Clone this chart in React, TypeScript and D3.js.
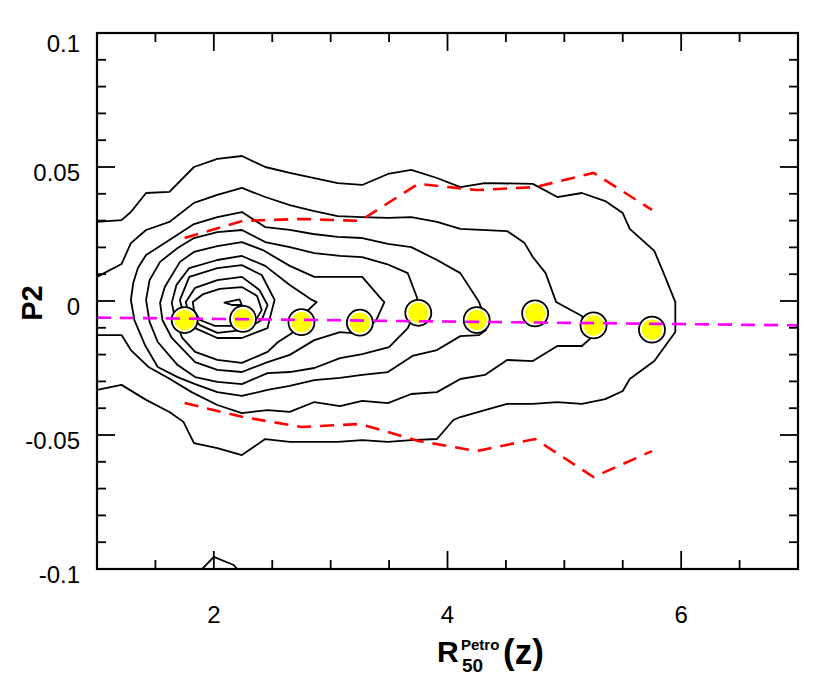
import React from 'react';
import * as d3 from 'd3';

const W = 830;
const H = 688;

// axis settings
const xDomain = [1, 7];
const yDomain = [-0.1, 0.1];
const xMajorTicks = [2, 4, 6];
const xMajorLabels = ['2', '4', '6'];
const xMinorTicks = [1.5, 2.5, 3, 3.5, 4.5, 5, 5.5, 6.5];
const yMajorTicks = [-0.1, -0.05, 0, 0.05, 0.1];
const yMajorLabels = ['-0.1', '-0.05', '0', '0.05', '0.1'];
const yMinorTicks = [-0.09, -0.08, -0.07, -0.06, -0.04, -0.03, -0.02, -0.01, 0.01, 0.02, 0.03, 0.04, 0.06, 0.07, 0.08, 0.09];

// binned statistics
const binCenters = [1.75, 2.25, 2.75, 3.25, 3.75, 4.25, 4.75, 5.25, 5.75];
const medianP2 = [-0.0071, -0.0067, -0.0079, -0.0081, -0.0044, -0.0071, -0.0046, -0.0091, -0.0107];
const upperP2 = [0.0235, 0.0299, 0.0306, 0.0299, 0.0437, 0.0414, 0.0425, 0.0478, 0.034];
const lowerP2 = [-0.0381, -0.0433, -0.047, -0.0459, -0.0522, -0.056, -0.0515, -0.0657, -0.056];

// linear fit
const fitX = [1, 7];
const fitY = [-0.0062, -0.0091];

// density contours (x = R50, y = P2)
const contourA = [[1.00,0.0295],[1.21,0.0302],[1.29,0.0332],[1.42,0.0403],[1.62,0.0407],[1.83,0.0500],[2.03,0.0530],[2.24,0.0541],[2.44,0.0500],[2.65,0.0478],[2.85,0.0459],[3.06,0.0440],[3.27,0.0433],[3.49,0.0474],[3.69,0.0489],[3.91,0.0459],[4.11,0.0425],[4.32,0.0440],[4.73,0.0437],[4.94,0.0388],[5.15,0.0403],[5.35,0.0373],[5.50,0.0328],[5.56,0.0269],[5.77,0.0187],[5.85,0.0104],[5.95,-0.0004],[5.95,-0.0116],[5.77,-0.0224],[5.56,-0.0291],[5.50,-0.0336],[5.35,-0.0366],[5.15,-0.0384],[4.94,-0.0377],[4.73,-0.0384],[4.51,-0.0384],[4.32,-0.0407],[4.11,-0.0433],[4.05,-0.0444],[3.91,-0.0515],[3.69,-0.0519],[3.49,-0.0526],[3.27,-0.0519],[3.06,-0.0526],[2.65,-0.0526],[2.44,-0.0515],[2.24,-0.0575],[2.03,-0.0549],[1.83,-0.0530],[1.74,-0.0451],[1.62,-0.0414],[1.42,-0.0369],[1.21,-0.0313],[1.00,-0.0332]];
const contourB = [[1.00,0.0090],[1.21,0.0138],[1.29,0.0216],[1.42,0.0265],[1.62,0.0295],[1.83,0.0366],[2.03,0.0396],[2.24,0.0422],[2.44,0.0388],[2.65,0.0358],[2.85,0.0336],[3.06,0.0317],[3.27,0.0313],[3.49,0.0310],[3.69,0.0313],[3.91,0.0295],[4.11,0.0269],[4.51,0.0261],[4.66,0.0216],[4.73,0.0164],[4.84,0.0104],[4.93,-0.0004],[5.15,-0.0056],[5.24,-0.0134],[5.15,-0.0168],[4.94,-0.0168],[4.73,-0.0224],[4.51,-0.0220],[4.32,-0.0276],[4.11,-0.0291],[3.91,-0.0340],[3.69,-0.0347],[3.49,-0.0381],[3.27,-0.0373],[3.08,-0.0392],[2.86,-0.0377],[2.65,-0.0414],[2.46,-0.0407],[2.24,-0.0418],[2.03,-0.0388],[1.81,-0.0340],[1.61,-0.0287],[1.44,-0.0246],[1.29,-0.0183],[1.21,-0.0127],[1.00,-0.0127]];
const contourC = [[1.29,0.0004],[1.31,0.0067],[1.35,0.0123],[1.42,0.0172],[1.62,0.0228],[1.83,0.0287],[2.03,0.0313],[2.24,0.0332],[2.44,0.0276],[2.65,0.0265],[2.85,0.0250],[3.06,0.0239],[3.27,0.0235],[3.49,0.0213],[3.69,0.0201],[3.91,0.0153],[4.11,0.0104],[4.27,-0.0004],[4.32,-0.0063],[4.33,-0.0108],[4.27,-0.0127],[4.11,-0.0131],[3.91,-0.0183],[3.70,-0.0205],[3.49,-0.0265],[3.27,-0.0276],[3.08,-0.0287],[2.86,-0.0295],[2.65,-0.0317],[2.46,-0.0332],[2.24,-0.0354],[2.03,-0.0340],[1.84,-0.0310],[1.69,-0.0284],[1.52,-0.0246],[1.41,-0.0164],[1.32,-0.0071]];
const contourD = [[1.42,0.0004],[1.45,0.0078],[1.54,0.0146],[1.69,0.0198],[1.83,0.0235],[2.03,0.0257],[2.24,0.0265],[2.44,0.0220],[2.65,0.0201],[2.86,0.0179],[3.08,0.0168],[3.27,0.0164],[3.48,0.0138],[3.66,0.0104],[3.74,0.0011],[3.72,-0.0052],[3.68,-0.0082],[3.66,-0.0101],[3.50,-0.0172],[3.27,-0.0198],[3.08,-0.0213],[2.86,-0.0250],[2.65,-0.0265],[2.46,-0.0269],[2.24,-0.0310],[2.03,-0.0302],[1.84,-0.0284],[1.69,-0.0239],[1.52,-0.0153],[1.45,-0.0078]];
const contourE = [[1.54,-0.0007],[1.58,0.0052],[1.71,0.0146],[1.83,0.0183],[2.03,0.0205],[2.24,0.0220],[2.42,0.0190],[2.65,0.0131],[2.86,0.0090],[3.27,0.0090],[3.44,0.0004],[3.46,-0.0004],[3.39,-0.0071],[3.26,-0.0123],[3.08,-0.0116],[2.86,-0.0146],[2.65,-0.0201],[2.46,-0.0228],[2.24,-0.0265],[2.03,-0.0257],[1.84,-0.0228],[1.64,-0.0138],[1.56,-0.0071]];
const contourF = [[1.64,-0.0007],[1.68,0.0060],[1.79,0.0123],[2.03,0.0153],[2.24,0.0168],[2.44,0.0131],[2.65,0.0060],[2.84,0.0004],[2.88,-0.0004],[2.79,-0.0041],[2.67,-0.0119],[2.55,-0.0153],[2.46,-0.0190],[2.24,-0.0231],[2.03,-0.0220],[1.84,-0.0190],[1.73,-0.0138],[1.67,-0.0071]];
const contourG = [[1.71,0.0004],[1.79,0.0090],[2.03,0.0123],[2.24,0.0134],[2.41,0.0097],[2.52,0.0004],[2.48,-0.0063],[2.46,-0.0101],[2.24,-0.0138],[2.03,-0.0138],[1.84,-0.0101],[1.74,-0.0052]];
const contourH = [[1.76,-0.0004],[1.84,0.0049],[2.03,0.0078],[2.24,0.0090],[2.39,0.0041],[2.46,-0.0015],[2.41,-0.0071],[2.26,-0.0108],[2.03,-0.0119],[1.88,-0.0090],[1.78,-0.0041]];
const contourI = [[1.82,-0.0004],[1.91,0.0026],[2.05,0.0045],[2.24,0.0052],[2.37,0.0019],[2.41,-0.0034],[2.35,-0.0078],[2.22,-0.0093],[2.01,-0.0093],[1.88,-0.0071],[1.83,-0.0034]];
const contourPeak = [[2.09,-0.0006],[2.22,0.0006],[2.24,-0.0015],[2.16,-0.0015]];
const contourBottom = [[1.90,-0.1],[2.00,-0.0955],[2.17,-0.0985],[2.20,-0.1]];

const openContours = [contourA, contourB, contourBottom];
const closedContours = [contourC, contourD, contourE, contourF, contourG, contourH, contourI, contourPeak];

const xScale = d3.scaleLinear().domain(xDomain).range([97, 798]);
const yScale = d3.scaleLinear().domain(yDomain).range([569, 33]);

const lineOpen = d3.line<number[]>().x(d => xScale(d[0])).y(d => yScale(d[1]));
const lineClosed = d3.line<number[]>().x(d => xScale(d[0])).y(d => yScale(d[1])).curve(d3.curveLinearClosed);

const FONT = '"Liberation Sans", Arial, Helvetica, sans-serif';

export default function App() {
  const x0 = xScale(xDomain[0]);
  const x1 = xScale(xDomain[1]);
  const y0 = yScale(yDomain[0]);
  const y1 = yScale(yDomain[1]);
  const majorLen = 18;
  const minorLen = 9;

  const upperPts = binCenters.map((c, i) => [c, upperP2[i]]);
  const lowerPts = binCenters.map((c, i) => [c, lowerP2[i]]);
  const fitPts = fitX.map((c, i) => [c, fitY[i]]);

  return (
    <svg width={W} height={H} style={{ position: 'absolute', left: 0, top: 0, background: '#fff' }}>
      <rect x={0} y={0} width={W} height={H} fill="#fff" />
      <defs>
        <clipPath id="plotclip">
          <rect x={x0} y={y1} width={x1 - x0} height={y0 - y1} />
        </clipPath>
      </defs>
      <g clipPath="url(#plotclip)">
        {openContours.map((c, i) => (
          <path key={'o' + i} d={lineOpen(c) || ''} fill="none" stroke="#000" strokeWidth={1.8} strokeLinejoin="round" />
        ))}
        {closedContours.map((c, i) => (
          <path key={'c' + i} d={lineClosed(c) || ''} fill="none" stroke="#000" strokeWidth={1.8} strokeLinejoin="round" />
        ))}
        <path d={lineOpen(upperPts) || ''} fill="none" stroke="#ff0000" strokeWidth={2.6} strokeDasharray="14 9" />
        <path d={lineOpen(lowerPts) || ''} fill="none" stroke="#ff0000" strokeWidth={2.6} strokeDasharray="14 9" />
        {binCenters.map((c, i) => (
          <g key={'p' + i}>
            <circle cx={xScale(c)} cy={yScale(medianP2[i])} r={13} fill="#fff" stroke="#000" strokeWidth={1.8} />
            <circle cx={xScale(c)} cy={yScale(medianP2[i])} r={10.3} fill="#ffff00" />
          </g>
        ))}
        <path d={lineOpen(fitPts) || ''} fill="none" stroke="#ff00ff" strokeWidth={2.6} strokeDasharray="14 9" />
      </g>

      {/* ticks */}
      {xMajorTicks.map((t, i) => (
        <g key={'xm' + i}>
          <line x1={xScale(t)} x2={xScale(t)} y1={y0} y2={y0 - majorLen} stroke="#000" strokeWidth={1.8} />
          <line x1={xScale(t)} x2={xScale(t)} y1={y1} y2={y1 + majorLen} stroke="#000" strokeWidth={1.8} />
          <text x={xScale(t)} y={y0 + 54} textAnchor="middle" fontFamily={FONT} fontSize={24}>{xMajorLabels[i]}</text>
        </g>
      ))}
      {xMinorTicks.map((t, i) => (
        <g key={'xn' + i}>
          <line x1={xScale(t)} x2={xScale(t)} y1={y0} y2={y0 - minorLen} stroke="#000" strokeWidth={1.8} />
          <line x1={xScale(t)} x2={xScale(t)} y1={y1} y2={y1 + minorLen} stroke="#000" strokeWidth={1.8} />
        </g>
      ))}
      {yMajorTicks.map((t, i) => (
        <g key={'ym' + i}>
          <line x1={x0} x2={x0 + majorLen} y1={yScale(t)} y2={yScale(t)} stroke="#000" strokeWidth={1.8} />
          <line x1={x1} x2={x1 - majorLen} y1={yScale(t)} y2={yScale(t)} stroke="#000" strokeWidth={1.8} />
          <text x={80} y={Math.max(yScale(t) + 14, y1 + 19)} textAnchor="end" fontFamily={FONT} fontSize={24}>{yMajorLabels[i]}</text>
        </g>
      ))}
      {yMinorTicks.map((t, i) => (
        <g key={'yn' + i}>
          <line x1={x0} x2={x0 + minorLen} y1={yScale(t)} y2={yScale(t)} stroke="#000" strokeWidth={1.8} />
          <line x1={x1} x2={x1 - minorLen} y1={yScale(t)} y2={yScale(t)} stroke="#000" strokeWidth={1.8} />
        </g>
      ))}

      <rect x={x0} y={y1} width={x1 - x0} height={y0 - y1} fill="none" stroke="#000" strokeWidth={2.2} />

      {/* axis titles */}
      <text transform="translate(42,303) rotate(-90)" textAnchor="middle" fontFamily={FONT} fontWeight="bold" fontSize={29}>P2</text>
      <g fontFamily={FONT} fontWeight="bold">
        <text x={437} y={662} fontSize={30}>R</text>
        <text x={461} y={650} fontSize={15}>Petro</text>
        <text x={462} y={672} fontSize={19}>50</text>
        <text x={503} y={664} fontSize={35}>(z)</text>
      </g>
    </svg>
  );
}
